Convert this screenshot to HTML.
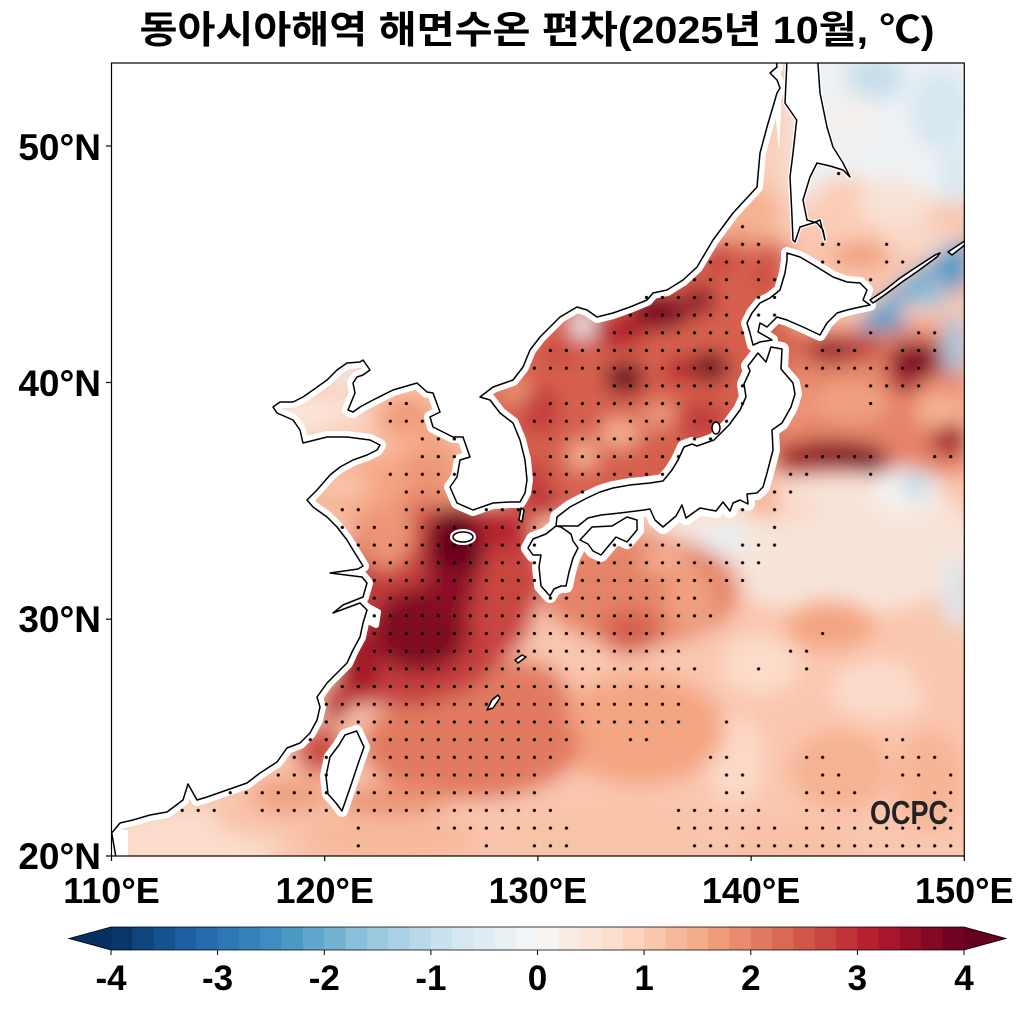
<!DOCTYPE html>
<html><head><meta charset="utf-8"><style>
html,body{margin:0;padding:0;background:#fff;}
svg{display:block;}
text{font-family:"Liberation Sans","Noto Sans CJK KR",sans-serif;font-weight:bold;fill:#000;}
</style></head><body>
<svg width="1025" height="1010" viewBox="0 0 1025 1010" xmlns="http://www.w3.org/2000/svg">
<defs>
<clipPath id="fc"><rect x="111.5" y="63" width="852.8" height="793"/></clipPath>
<filter id="bl" filterUnits="userSpaceOnUse" x="0" y="0" width="1025" height="1010"><feGaussianBlur stdDeviation="10"/></filter>
<pattern id="dp" patternUnits="userSpaceOnUse" x="0" y="0" width="1" height="1"><ellipse cx="0.5" cy="0.5" rx="0.1" ry="0.09" fill="#000"/></pattern>
<path id="pM" d="M100,870 L118,870 L114,846 L111.7,833 L120,823 L133,820 L150,815 L167,812 L183,800 L188,784 L197,800 L207,797 L227,790 L247,783 L260,773 L277,762 L287,748 L300,743 L310,733 L317,720 L320,707 L317,697 L327,683 L333,677 L347,663 L353,650 L360,637 L363,623 L367,610 L360,603 L333,613 L343,605 L363,597 L367,583 L362,577 L330,573 L358,569 L363,566 L353,550 L347,540 L337,527 L327,517 L313,507 L307,500 L317,490 L330,475 L340,467 L353,460 L367,455 L377,450 L380,445 L370,440 L347,437 L327,437 L303,443 L300,430 L293,420 L277,413 L273,407 L280,402 L293,402 L303,397 L313,390 L327,380 L337,370 L347,363 L360,362 L363,360 L370,370 L363,375 L357,377 L353,383 L355,393 L348,410 L353,412 L360,407 L373,400 L393,390 L417,383 L427,392 L433,393 L440,412 L430,417 L433,427 L453,437 L463,437 L470,457 L460,460 L457,477 L450,487 L457,503 L473,510 L493,503 L510,502 L520,502 L525,493 L527,480 L525,460 L520,440 L513,423 L500,413 L490,400 L480,397 L493,387 L513,380 L523,367 L530,350 L540,337 L550,327 L560,317 L577,307 L587,310 L597,317 L613,313 L630,307 L647,300 L653,293 L667,290 L683,280 L697,267 L713,240 L733,213 L757,187 L760,153 L767,127 L777,93 L780,88 L777,80 L770,73 L777,67 L775,50 L100,50 Z"/>
<path id="pS" d="M786.7,50 L786.7,67 L785,103 L796.7,120 L793,153 L790,177 L791.7,210 L793,240 L795,242 L800,227 L813,223 L820,220 L825,240 L823,230 L817,223 L807,220 L803,200 L810,177 L817,163 L830,166 L843,170 L850,177 L843,163 L833,147 L827,127 L820,93 L817,50 Z"/>
<path id="pH" d="M787,253 L800,257 L817,267 L833,277 L847,282 L860,283 L867,290 L863,300 L870,305 L860,307 L847,310 L837,313 L827,323 L820,335 L803,327 L787,320 L777,317 L767,327 L760,323 L758,332 L767,337 L772,340 L760,342 L753,345 L750,333 L747,323 L752,313 L760,303 L770,298 L780,290 L785,273 L787,260 Z"/>
<path id="pN" d="M758,353 L766,362 L771,347 L782,349 L781,369 L793,383 L795,394 L791,407 L782,423 L772,430 L773,450 L767,473 L763,487 L757,493 L747,494 L748,504 L740,500 L733,503 L730,511 L723,502 L716,511 L700,508 L686,518 L682,505 L676,516 L663,527 L655,520 L650,509 L644,510 L620,513 L601,515 L588,518 L578,526 L556,526 L557,517 L570,507 L587,498 L600,492 L613,488 L630,485 L650,483 L663,481 L672,470 L678,460 L684,447 L692,444 L697,446 L714,440 L729,425 L740,410 L746,397 L744,384 L750,371 L748,366 Z"/>
<path id="pK" d="M556,526 L546,534 L533,539 L528,548 L533,555 L541,555 L539,567 L541,586 L550,596 L554,589 L561,586 L566,586 L569,572 L573,558 L578,548 L573,541 L571,534 L561,527 Z"/>
<path id="pSh" d="M580,540 L592,527 L612,526 L627,517 L637,520 L637,530 L627,542 L616,537 L601,555 L593,551 L588,544 Z"/>
<path id="pT" d="M356.6,731 L364,747 L358,764 L351,785 L342,811 L336,803 L328,794 L326,776 L330,757 L339,745 L345,735 Z"/>
<ellipse id="pJ" cx="463" cy="537" rx="10" ry="5"/>
</defs>

<!-- colour field -->
<g clip-path="url(#fc)">
<g filter="url(#bl)">
<rect x="60" y="30" width="960" height="880" fill="#fac6ae"/>
<ellipse cx="190" cy="842" rx="90" ry="35" fill="#fbdccb"/>
<ellipse cx="265" cy="815" rx="50" ry="22" fill="#f8c3a8"/>
<ellipse cx="390" cy="838" rx="90" ry="25" fill="#f7b99c"/>
<ellipse cx="600" cy="835" rx="110" ry="28" fill="#f9c3a8"/>
<!-- Okhotsk -->
<rect x="790" y="40" width="200" height="160" fill="#eef2f4"/>
<ellipse cx="875" cy="78" rx="30" ry="22" fill="#c6deeb"/>
<ellipse cx="940" cy="110" rx="30" ry="40" fill="#d6e7f0"/>
<ellipse cx="955" cy="175" rx="15" ry="30" fill="#d8e8f0"/>
<ellipse cx="850" cy="120" rx="25" ry="30" fill="#f3f0ee"/>
<ellipse cx="845" cy="210" rx="35" ry="35" fill="#fbcdb7"/>
<ellipse cx="895" cy="205" rx="35" ry="25" fill="#f9e2d6"/>
<ellipse cx="920" cy="240" rx="40" ry="18" fill="#f9d6c5"/>
<ellipse cx="860" cy="255" rx="30" ry="14" fill="#f0a080"/>
<ellipse cx="790" cy="150" rx="7" ry="80" fill="#f9d8c6"/>
<!-- east of Tohoku -->
<rect x="770" y="325" width="200" height="150" fill="#e58368"/>
<ellipse cx="830" cy="350" rx="30" ry="12" fill="#8c0c25"/>
<ellipse cx="865" cy="347" rx="15" ry="10" fill="#b2182b"/>
<ellipse cx="915" cy="360" rx="28" ry="18" fill="#7a0622"/>
<ellipse cx="905" cy="380" rx="15" ry="12" fill="#9a1027"/>
<ellipse cx="800" cy="345" rx="15" ry="10" fill="#d6604d"/>
<ellipse cx="850" cy="402" rx="40" ry="22" fill="#f0a080"/>
<ellipse cx="940" cy="410" rx="25" ry="20" fill="#f6b293"/>
<ellipse cx="790" cy="405" rx="20" ry="28" fill="#ec9475"/>
<ellipse cx="830" cy="455" rx="55" ry="14" fill="#7a0622"/>
<ellipse cx="870" cy="462" rx="20" ry="10" fill="#6d0220"/>
<ellipse cx="800" cy="460" rx="20" ry="14" fill="#a01228"/>
<ellipse cx="950" cy="440" rx="20" ry="15" fill="#a01228"/>
<!-- blue strip -->
<polygon points="862,335 885,318 920,295 970,258 970,236 945,250 915,270 880,300 858,322" fill="#6aabd0"/>
<ellipse cx="885" cy="322" rx="22" ry="10" fill="#4d99c7"/>
<ellipse cx="955" cy="268" rx="15" ry="25" fill="#4a97c6"/>
<ellipse cx="955" cy="345" rx="12" ry="30" fill="#9fcbe2"/>
<ellipse cx="930" cy="298" rx="18" ry="10" fill="#8fc3dd"/>
<!-- Pacific east light -->
<ellipse cx="840" cy="545" rx="140" ry="70" fill="#f8e4d9"/>
<ellipse cx="905" cy="490" rx="35" ry="22" fill="#f4f2f1"/>
<ellipse cx="915" cy="485" rx="12" ry="12" fill="#b2d5e7"/>
<ellipse cx="700" cy="525" rx="40" ry="25" fill="#f9e5da"/>
<ellipse cx="722" cy="540" rx="28" ry="15" fill="#e8eff3"/>
<ellipse cx="955" cy="600" rx="12" ry="45" fill="#d9e8f1"/>
<ellipse cx="790" cy="510" rx="30" ry="15" fill="#fbd9c7"/>
<ellipse cx="762" cy="500" rx="18" ry="18" fill="#f6b293"/>
<!-- central Pacific -->
<ellipse cx="830" cy="625" rx="45" ry="25" fill="#f4a582"/>
<ellipse cx="760" cy="665" rx="40" ry="30" fill="#fcdcc9"/>
<ellipse cx="880" cy="690" rx="50" ry="30" fill="#fcdacb"/>
<ellipse cx="940" cy="660" rx="30" ry="40" fill="#f9c7ad"/>
<ellipse cx="735" cy="760" rx="30" ry="45" fill="#fcd9c7"/>
<ellipse cx="840" cy="770" rx="50" ry="40" fill="#f6b293"/>
<ellipse cx="930" cy="780" rx="35" ry="50" fill="#f7b597"/>
<ellipse cx="790" cy="842" rx="60" ry="20" fill="#f8c0a4"/>
<!-- south of Japan -->
<ellipse cx="640" cy="590" rx="100" ry="55" fill="#e58368"/>
<ellipse cx="640" cy="730" rx="85" ry="55" fill="#f4a582"/>
<ellipse cx="630" cy="632" rx="30" ry="22" fill="#d6604d"/>
<ellipse cx="690" cy="600" rx="25" ry="30" fill="#f0a080"/>
<ellipse cx="665" cy="560" rx="25" ry="12" fill="#f6b293"/>
<!-- south ECS -->
<ellipse cx="470" cy="745" rx="110" ry="55" fill="#e17a61"/>
<ellipse cx="520" cy="700" rx="50" ry="40" fill="#e17a61"/>
<ellipse cx="320" cy="750" rx="25" ry="25" fill="#cd4e45"/>
<ellipse cx="290" cy="795" rx="40" ry="18" fill="#f0a080"/>
<ellipse cx="390" cy="800" rx="60" ry="15" fill="#ec9475"/>
<!-- ECS -->
<polygon points="355,500 530,505 545,580 525,640 470,690 420,705 330,705 345,600" fill="#c43c3c"/>
<ellipse cx="505" cy="600" rx="30" ry="50" fill="#c94540"/>
<ellipse cx="455" cy="548" rx="28" ry="42" fill="#67001f"/>
<ellipse cx="420" cy="630" rx="48" ry="42" fill="#800822"/>
<ellipse cx="450" cy="590" rx="25" ry="25" fill="#8c0c25"/>
<ellipse cx="362" cy="665" rx="18" ry="30" fill="#a01228"/>
<ellipse cx="335" cy="705" rx="14" ry="18" fill="#b7212f"/>
<ellipse cx="385" cy="530" rx="30" ry="40" fill="#ec9475"/>
<ellipse cx="350" cy="505" rx="20" ry="18" fill="#f6b293"/>
<ellipse cx="500" cy="530" rx="20" ry="20" fill="#b7212f"/>
<!-- Yellow Sea -->
<polygon points="300,470 460,440 470,500 440,510 360,508 300,505" fill="#f4a582"/>
<ellipse cx="340" cy="485" rx="30" ry="15" fill="#f9c5ab"/>
<ellipse cx="430" cy="470" rx="25" ry="20" fill="#ec9475"/>
<ellipse cx="425" cy="500" rx="28" ry="10" fill="#e58368"/>
<ellipse cx="410" cy="420" rx="35" ry="25" fill="#f4a582"/>
<ellipse cx="405" cy="410" rx="15" ry="12" fill="#ec9475"/>
<ellipse cx="440" cy="450" rx="15" ry="15" fill="#f0a080"/>
<!-- Bohai -->
<ellipse cx="320" cy="415" rx="45" ry="20" fill="#fbe4d8"/>
<ellipse cx="345" cy="375" rx="15" ry="12" fill="#eef0f2"/>
<ellipse cx="290" cy="412" rx="15" ry="10" fill="#f8ebe4"/>
<ellipse cx="350" cy="430" rx="25" ry="12" fill="#f9d0bb"/>
<!-- Japan Sea -->
<polygon points="480,390 560,300 700,255 735,230 790,245 790,350 770,450 650,500 540,520 480,480" fill="#d6604d"/>
<ellipse cx="752" cy="215" rx="28" ry="30" fill="#f6b293"/>
<ellipse cx="735" cy="240" rx="18" ry="12" fill="#ec9475"/>
<ellipse cx="772" cy="140" rx="12" ry="55" fill="#f9d2bd"/>
<ellipse cx="718" cy="257" rx="22" ry="15" fill="#c94540"/>
<ellipse cx="765" cy="275" rx="12" ry="18" fill="#cd4e45"/>
<ellipse cx="660" cy="312" rx="30" ry="18" fill="#7a0622"/>
<ellipse cx="700" cy="300" rx="15" ry="15" fill="#8c0c25"/>
<ellipse cx="620" cy="332" rx="25" ry="15" fill="#b2182b"/>
<ellipse cx="560" cy="352" rx="20" ry="15" fill="#cd4e45"/>
<ellipse cx="583" cy="325" rx="12" ry="14" fill="#eaeff2"/>
<ellipse cx="625" cy="378" rx="20" ry="16" fill="#67001f"/>
<ellipse cx="710" cy="367" rx="18" ry="15" fill="#67001f"/>
<ellipse cx="680" cy="370" rx="15" ry="12" fill="#b2182b"/>
<ellipse cx="620" cy="433" rx="20" ry="15" fill="#f6b293"/>
<ellipse cx="583" cy="455" rx="15" ry="15" fill="#f6b293"/>
<ellipse cx="660" cy="415" rx="18" ry="12" fill="#f0a080"/>
<ellipse cx="540" cy="410" rx="20" ry="25" fill="#c43c3c"/>
<ellipse cx="515" cy="390" rx="15" ry="15" fill="#ec9475"/>
<ellipse cx="700" cy="420" rx="25" ry="20" fill="#c43c3c"/>
<ellipse cx="740" cy="390" rx="12" ry="25" fill="#d6604d"/>
<ellipse cx="530" cy="480" rx="20" ry="20" fill="#c43c3c"/>
<ellipse cx="545" cy="505" rx="15" ry="10" fill="#b2182b"/>
</g>
</g>

<!-- land (white with mask margin) -->
<g clip-path="url(#fc)" fill="#fff" stroke="#fff" stroke-width="12" stroke-linejoin="round">
<use href="#pM"/><use href="#pH"/><use href="#pT"/>
<use href="#pN" stroke-width="14"/><use href="#pK" stroke-width="14"/><use href="#pSh" stroke-width="14"/>
<use href="#pS" stroke-width="4"/>
<rect x="110" y="830" width="18" height="30" stroke="none"/>
<polygon points="770,63 781,63 781,110 779,150 776,120 772,100" stroke="none"/>
<polygon points="365,605 378,612 376,625 366,620" stroke-width="6"/>
<use href="#pJ" stroke-width="6"/>
</g>

<!-- stippling -->
<g clip-path="url(#fc)">
<g transform="translate(334.3,500.85) scale(16.01,17.69)" fill="url(#dp)">
<rect x="31" y="-19" width="1" height="1"/>
<rect x="25" y="-16" width="1" height="1"/>
<rect x="24" y="-15" width="3" height="1"/><rect x="30" y="-15" width="2" height="1"/><rect x="34" y="-15" width="1" height="1"/>
<rect x="23" y="-14" width="4" height="1"/><rect x="30" y="-14" width="2" height="1"/><rect x="34" y="-14" width="2" height="1"/>
<rect x="22" y="-13" width="3" height="1"/><rect x="26" y="-13" width="2" height="1"/><rect x="33" y="-13" width="1" height="1"/>
<rect x="19" y="-12" width="6" height="1"/><rect x="26" y="-12" width="2" height="1"/>
<rect x="18" y="-11" width="7" height="1"/><rect x="26" y="-11" width="2" height="1"/>
<rect x="17" y="-10" width="9" height="1"/><rect x="33" y="-10" width="1" height="1"/><rect x="36" y="-10" width="2" height="1"/>
<rect x="13" y="-9" width="12" height="1"/><rect x="30" y="-9" width="3" height="1"/><rect x="35" y="-9" width="3" height="1"/>
<rect x="12" y="-8" width="13" height="1"/><rect x="29" y="-8" width="8" height="1"/>
<rect x="17" y="-7" width="9" height="1"/><rect x="29" y="-7" width="1" height="1"/><rect x="33" y="-7" width="4" height="1"/>
<rect x="3" y="-6" width="2" height="1"/><rect x="13" y="-6" width="9" height="1"/><rect x="23" y="-6" width="3" height="1"/><rect x="33" y="-6" width="1" height="1"/>
<rect x="3" y="-5" width="3" height="1"/><rect x="12" y="-5" width="5" height="1"/><rect x="18" y="-5" width="3" height="1"/><rect x="22" y="-5" width="3" height="1"/>
<rect x="5" y="-4" width="3" height="1"/><rect x="13" y="-4" width="11" height="1"/>
<rect x="5" y="-3" width="3" height="1"/><rect x="13" y="-3" width="9" height="1"/><rect x="29" y="-3" width="5" height="1"/><rect x="37" y="-3" width="2" height="1"/>
<rect x="3" y="-2" width="5" height="1"/><rect x="12" y="-2" width="9" height="1"/><rect x="28" y="-2" width="2" height="1"/><rect x="33" y="-2" width="1" height="1"/>
<rect x="4" y="-1" width="3" height="1"/><rect x="12" y="-1" width="4" height="1"/><rect x="27" y="-1" width="2" height="1"/>
<rect x="0" y="0" width="2" height="1"/><rect x="4" y="0" width="3" height="1"/><rect x="9" y="0" width="5" height="1"/><rect x="25" y="0" width="1" height="1"/><rect x="27" y="0" width="1" height="1"/>
<rect x="0" y="1" width="3" height="1"/><rect x="4" y="1" width="4" height="1"/><rect x="9" y="1" width="4" height="1"/><rect x="27" y="1" width="1" height="1"/>
<rect x="1" y="2" width="12" height="1"/><rect x="17" y="2" width="5" height="1"/><rect x="25" y="2" width="3" height="1"/>
<rect x="2" y="3" width="11" height="1"/><rect x="15" y="3" width="12" height="1"/>
<rect x="2" y="4" width="11" height="1"/><rect x="15" y="4" width="11" height="1"/>
<rect x="2" y="5" width="21" height="1"/>
<rect x="2" y="6" width="22" height="1"/>
<rect x="2" y="7" width="19" height="1"/><rect x="30" y="7" width="1" height="1"/>
<rect x="2" y="8" width="20" height="1"/><rect x="28" y="8" width="2" height="1"/>
<rect x="1" y="9" width="22" height="1"/><rect x="26" y="9" width="1" height="1"/><rect x="29" y="9" width="1" height="1"/>
<rect x="0" y="10" width="22" height="1"/>
<rect x="-1" y="11" width="23" height="1"/>
<rect x="-1" y="12" width="23" height="1"/><rect x="24" y="12" width="1" height="1"/>
<rect x="-2" y="13" width="2" height="1"/><rect x="2" y="13" width="13" height="1"/><rect x="18" y="13" width="2" height="1"/><rect x="34" y="13" width="2" height="1"/>
<rect x="-3" y="14" width="3" height="1"/><rect x="2" y="14" width="12" height="1"/><rect x="23" y="14" width="2" height="1"/><rect x="29" y="14" width="2" height="1"/><rect x="34" y="14" width="4" height="1"/>
<rect x="-4" y="15" width="4" height="1"/><rect x="2" y="15" width="11" height="1"/><rect x="24" y="15" width="2" height="1"/><rect x="30" y="15" width="2" height="1"/><rect x="35" y="15" width="2" height="1"/><rect x="38" y="15" width="1" height="1"/>
<rect x="-7" y="16" width="7" height="1"/><rect x="1" y="16" width="12" height="1"/><rect x="24" y="16" width="2" height="1"/><rect x="29" y="16" width="4" height="1"/><rect x="37" y="16" width="2" height="1"/>
<rect x="-10" y="17" width="3" height="1"/><rect x="-5" y="17" width="5" height="1"/><rect x="1" y="17" width="13" height="1"/><rect x="21" y="17" width="6" height="1"/><rect x="29" y="17" width="4" height="1"/><rect x="38" y="17" width="1" height="1"/>
<rect x="1" y="18" width="1" height="1"/><rect x="6" y="18" width="9" height="1"/><rect x="21" y="18" width="7" height="1"/><rect x="29" y="18" width="10" height="1"/>
<rect x="1" y="19" width="1" height="1"/><rect x="9" y="19" width="1" height="1"/><rect x="12" y="19" width="3" height="1"/><rect x="22" y="19" width="17" height="1"/>
</g>
</g>

<!-- coastlines -->
<g clip-path="url(#fc)" fill="none" stroke="#000" stroke-width="1.5" stroke-linejoin="round">
<use href="#pM"/><use href="#pS"/><use href="#pH"/><use href="#pN"/><use href="#pK"/><use href="#pSh"/><use href="#pT"/><use href="#pJ"/>
<polygon points="870,300 885,290 900,278 915,268 935,255 940,253 937,257 918,271 902,282 886,294 873,303" fill="#fff"/>
<polygon points="948,252 966,240 966,244 952,255" fill="#fff"/>
<polygon points="487,710 492,700 498,695 500,698 493,708" fill="#fff"/>
<polygon points="515,660 522,655 526,657 518,663" fill="#fff"/>
<polygon points="521,508 524,510 522,522 519,520" fill="#fff"/>
<ellipse cx="716" cy="428" rx="4" ry="6" fill="#fff"/>
</g>

<!-- OCPC logo -->
<text x="870" y="824" font-size="33" textLength="78" lengthAdjust="spacingAndGlyphs" style="fill:#222">OCPC</text>

<!-- frame -->
<rect x="111.5" y="63" width="852.8" height="793" fill="none" stroke="#000" stroke-width="1.2"/>
<g stroke="#000" stroke-width="1.2">
<line x1="106" y1="146" x2="111.5" y2="146"/>
<line x1="106" y1="382.5" x2="111.5" y2="382.5"/>
<line x1="106" y1="619.2" x2="111.5" y2="619.2"/>
<line x1="106" y1="856" x2="111.5" y2="856"/>
<line x1="111.5" y1="856" x2="111.5" y2="861"/>
<line x1="324.7" y1="856" x2="324.7" y2="861"/>
<line x1="537.9" y1="856" x2="537.9" y2="861"/>
<line x1="751.1" y1="856" x2="751.1" y2="861"/>
<line x1="964.3" y1="856" x2="964.3" y2="861"/>
</g>

<!-- title -->
<text x="537" y="43" text-anchor="middle" font-size="38" textLength="795" lengthAdjust="spacingAndGlyphs">동아시아해역 해면수온 편차(2025년 10월, ℃)</text>

<!-- lat labels -->
<g font-size="37" text-anchor="end">
<text x="101" y="160">50°N</text>
<text x="101" y="396">40°N</text>
<text x="101" y="632">30°N</text>
<text x="101" y="869">20°N</text>
</g>
<!-- lon labels -->
<g font-size="36" text-anchor="middle">
<text x="111.5" y="903">110°E</text>
<text x="324.7" y="903">120°E</text>
<text x="537.9" y="903">130°E</text>
<text x="751.1" y="903">140°E</text>
<text x="964.3" y="903">150°E</text>
</g>

<!-- colorbar -->
<g transform="translate(111,927) scale(21.325,1)">
<rect x="0" width="1.05" height="23" fill="#09376a"/><rect x="1" width="1.05" height="23" fill="#10447d"/><rect x="2" width="1.05" height="23" fill="#175290"/><rect x="3" width="1.05" height="23" fill="#1e5fa3"/>
<rect x="4" width="1.05" height="23" fill="#256caf"/><rect x="5" width="1.05" height="23" fill="#2e77b5"/><rect x="6" width="1.05" height="23" fill="#3682ba"/><rect x="7" width="1.05" height="23" fill="#3f8dc0"/>
<rect x="8" width="1.05" height="23" fill="#4d99c6"/><rect x="9" width="1.05" height="23" fill="#61a6cd"/><rect x="10" width="1.05" height="23" fill="#74b2d4"/><rect x="11" width="1.05" height="23" fill="#88bfdb"/>
<rect x="12" width="1.05" height="23" fill="#9ac9e0"/><rect x="13" width="1.05" height="23" fill="#aad1e5"/><rect x="14" width="1.05" height="23" fill="#b9d9e9"/><rect x="15" width="1.05" height="23" fill="#c9e1ee"/>
<rect x="16" width="1.05" height="23" fill="#d6e7f1"/><rect x="17" width="1.05" height="23" fill="#dfecf3"/><rect x="18" width="1.05" height="23" fill="#e9f0f4"/><rect x="19" width="1.05" height="23" fill="#f2f5f6"/>
<rect x="20" width="1.05" height="23" fill="#f8f4f1"/><rect x="21" width="1.05" height="23" fill="#f9ece5"/><rect x="22" width="1.05" height="23" fill="#fbe6d9"/><rect x="23" width="1.05" height="23" fill="#fcdecd"/>
<rect x="24" width="1.05" height="23" fill="#fcd4be"/><rect x="25" width="1.05" height="23" fill="#fac7ad"/><rect x="26" width="1.05" height="23" fill="#f7b99c"/><rect x="27" width="1.05" height="23" fill="#f5ac8b"/>
<rect x="28" width="1.05" height="23" fill="#f09c7b"/><rect x="29" width="1.05" height="23" fill="#e98b6e"/><rect x="30" width="1.05" height="23" fill="#e17a61"/><rect x="31" width="1.05" height="23" fill="#da6954"/>
<rect x="32" width="1.05" height="23" fill="#d25749"/><rect x="33" width="1.05" height="23" fill="#c94540"/><rect x="34" width="1.05" height="23" fill="#c03338"/><rect x="35" width="1.05" height="23" fill="#b7212f"/>
<rect x="36" width="1.05" height="23" fill="#a9152a"/><rect x="37" width="1.05" height="23" fill="#960f27"/><rect x="38" width="1.05" height="23" fill="#830924"/><rect x="39" width="1" height="23" fill="#700321"/>
</g>
<polygon points="111.5,927 69,938.5 111.5,950" fill="#053061"/>
<polygon points="963.5,927 1006,938.5 963.5,950" fill="#67001f"/>
<polygon points="111,927 964,927 1006,938.5 964,950 111,950 69,938.5" fill="none" stroke="#000" stroke-width="0.8"/>
<g stroke="#000" stroke-width="1">
<line x1="111" y1="950" x2="111" y2="955"/><line x1="217.6" y1="950" x2="217.6" y2="955"/><line x1="324.3" y1="950" x2="324.3" y2="955"/><line x1="430.9" y1="950" x2="430.9" y2="955"/><line x1="537.5" y1="950" x2="537.5" y2="955"/><line x1="644.1" y1="950" x2="644.1" y2="955"/><line x1="750.8" y1="950" x2="750.8" y2="955"/><line x1="857.4" y1="950" x2="857.4" y2="955"/><line x1="964" y1="950" x2="964" y2="955"/>
</g>
<g font-size="35" text-anchor="middle">
<text x="111" y="990">-4</text><text x="217.6" y="990">-3</text><text x="324.3" y="990">-2</text><text x="430.9" y="990">-1</text><text x="537.5" y="990">0</text><text x="644.1" y="990">1</text><text x="750.8" y="990">2</text><text x="857.4" y="990">3</text><text x="964" y="990">4</text>
</g>
</svg>
</body></html>
